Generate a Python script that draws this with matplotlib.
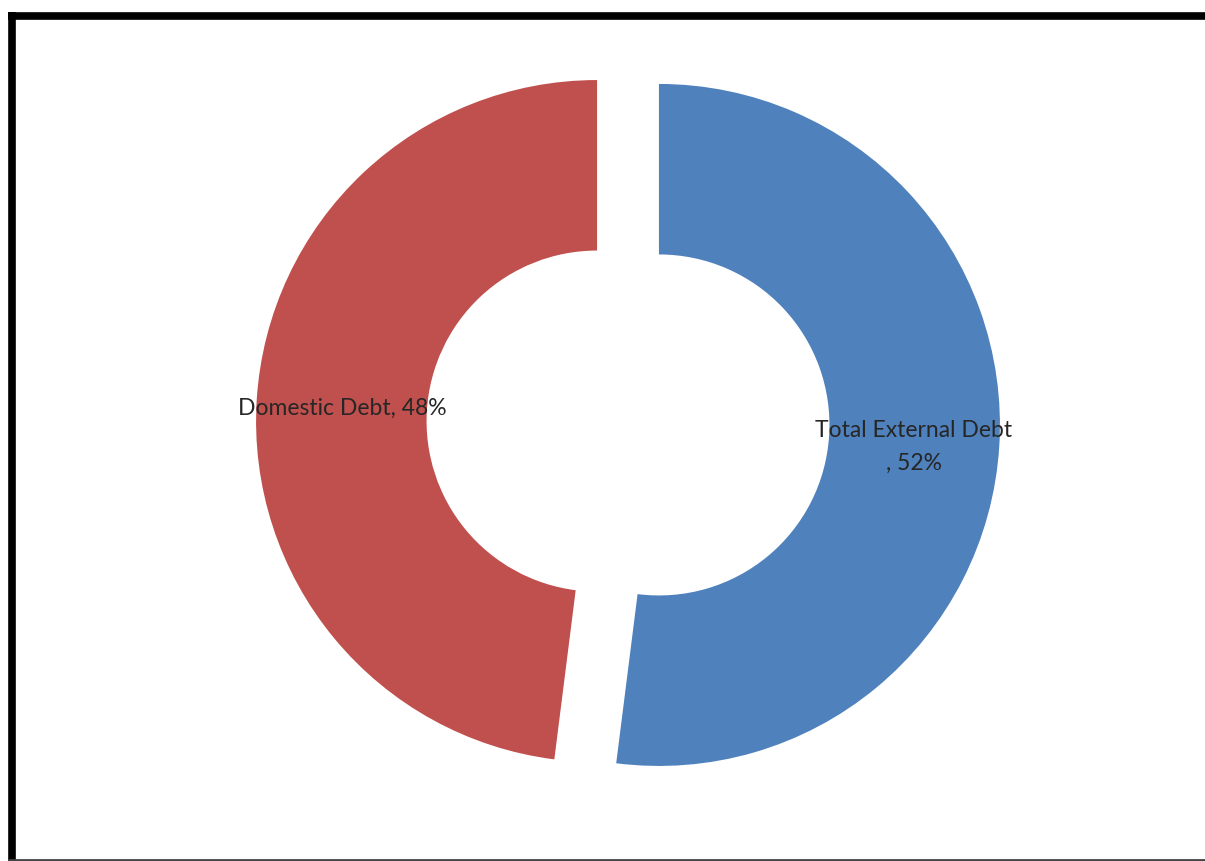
import matplotlib
matplotlib.use("Agg")
import matplotlib.pyplot as plt
from matplotlib.lines import Line2D

categories = ["Total External Debt", "Domestic Debt"]
values = [52, 48]
colors = ["#4F81BD", "#C0504D"]
label_texts = ["Total External Debt\n, 52%", "Domestic Debt, 48%"]

W, H = 1205, 861
fig = plt.figure(figsize=(W / 100, H / 100), dpi=100)
fig.patch.set_facecolor("white")
ax = fig.add_axes([0, 0, 1, 1])
ax.set_xlim(0, W)
ax.set_ylim(0, H)
ax.set_aspect("equal")
ax.axis("off")

R = 341
center = (628, H - 423)
wedges, _ = ax.pie(values, colors=colors, startangle=90, counterclock=False,
                   radius=R, center=center, explode=[31, 31],
                   wedgeprops=dict(width=R * 0.5, edgecolor="white", linewidth=0))
ax.set_xlim(0, W)
ax.set_ylim(0, H)

ax.text(914, H - 447, label_texts[0], ha="center", va="center", fontsize=16.5,
        family=["Lato", "DejaVu Sans"], color="#262626", linespacing=1.65)
ax.text(342, H - 408, label_texts[1], ha="center", va="center", fontsize=16.5,
        family=["Lato", "DejaVu Sans"], color="#262626")

# frame border
fig.add_artist(Line2D([8, W], [H - 15.5, H - 15.5], transform=None, color="black", lw=5.5, solid_capstyle="butt"))
fig.add_artist(Line2D([11.5, 11.5], [0, H - 12], transform=None, color="black", lw=5.5, solid_capstyle="butt"))
fig.add_artist(Line2D([8, W], [1.5, 1.5], transform=None, color="#444444", lw=2, solid_capstyle="butt"))

fig.savefig("out.png", dpi=100, facecolor="white")
